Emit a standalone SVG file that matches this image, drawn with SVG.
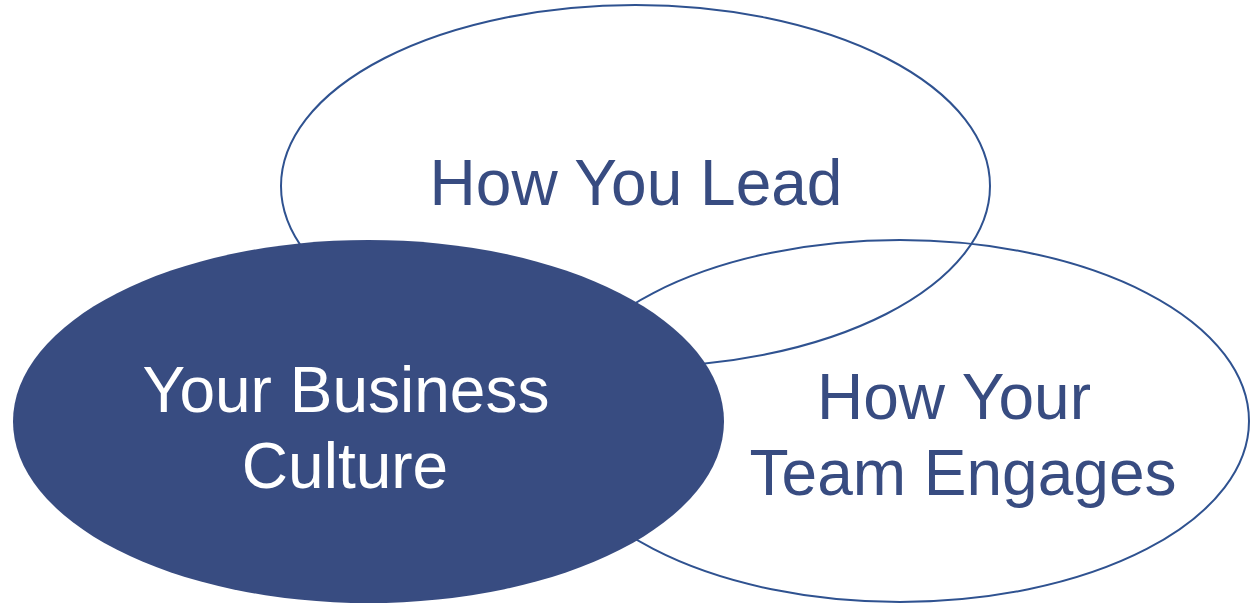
<svg xmlns="http://www.w3.org/2000/svg" width="1250" height="604" viewBox="0 0 1250 604">
  <style>
    .outline { fill: none; stroke: #2F5290; stroke-width: 2; }
    .solid { fill: #384C81; stroke: none; }
    .label { font-family: "Liberation Sans", Arial, sans-serif; font-size: 64px; text-anchor: middle; }
    .dark { fill: #384C81; }
    .light { fill: #FFFFFF; }
  </style>
  <rect width="1250" height="604" fill="#FFFFFF"/>

  <g id="how-you-lead">
    <ellipse class="outline" cx="635.5" cy="186" rx="354.5" ry="181"/>
    <text class="label dark" x="636" y="205">How You Lead</text>
  </g>

  <g id="team-engages">
    <ellipse class="outline" cx="900" cy="421" rx="349" ry="181"/>
    <text class="label dark" x="954" y="419">How Your</text>
    <text class="label dark" x="963" y="495">Team Engages</text>
  </g>

  <g id="business-culture">
    <ellipse class="solid" cx="368.5" cy="421.5" rx="355.5" ry="181.5"/>
    <text class="label light" x="346" y="412">Your Business</text>
    <text class="label light" x="345" y="488">Culture</text>
  </g>

  <g id="connectors"></g>
</svg>
